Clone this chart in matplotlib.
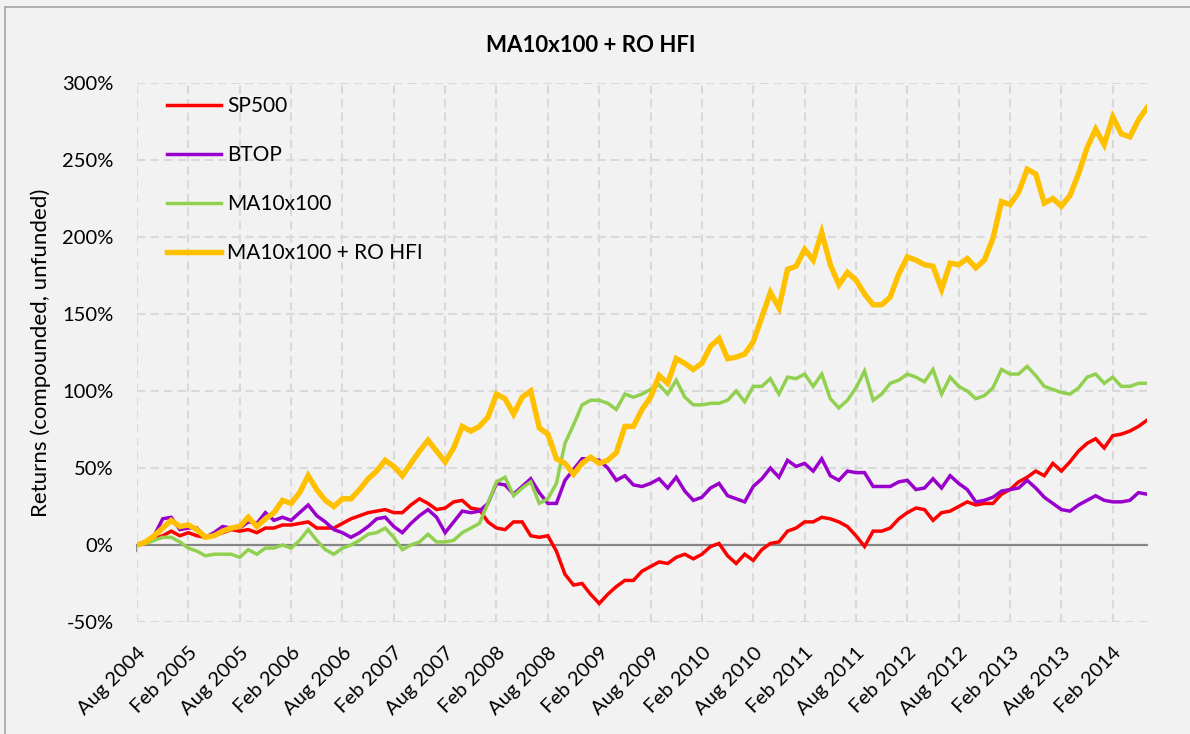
import matplotlib
matplotlib.use("Agg")
import matplotlib.pyplot as plt
from matplotlib.lines import Line2D
import numpy as np

plt.rcParams['font.family'] = ['Lato', 'DejaVu Sans']

# monthly returns in %, Aug 2004 .. Jun 2014
sp500 = [0, 1, 4, 6, 9, 6, 8, 6, 5, 6, 8, 10, 9, 10, 8, 11, 11, 13, 13, 14, 15, 11, 11, 11, 14, 17, 19, 21, 22, 23, 21,
         21, 26, 30, 27, 23, 24, 28, 29, 24, 23, 15, 11, 10, 15, 15, 6, 5, 6, -4, -19, -26, -25, -32, -38, -32, -27, -23, -23, -17, -14,
         -11, -12, -8, -6, -9, -6, -1, 1, -7, -12, -6, -10, -3, 1, 2, 9, 11, 15, 15, 18, 17, 15, 12, 6, -1, 9, 9, 11, 17,
         21, 24, 23, 16, 21, 22, 25, 28, 26, 27, 27, 33, 36, 41, 44, 48, 45, 53, 48, 54, 61, 66, 69, 63, 71, 72, 74, 77, 81]
btop = [0, 2, 6, 17, 18, 10, 11, 11, 5, 8, 12, 11, 11, 15, 14, 21, 16, 18, 16, 21, 26, 19, 15, 10, 8, 5, 8, 12, 17, 18, 12,
        8, 14, 19, 23, 18, 8, 15, 22, 21, 22, 27, 40, 39, 33, 38, 43, 34, 27, 27, 42, 49, 56, 56, 55, 50, 42, 45, 39, 38, 40,
        43, 37, 44, 35, 29, 31, 37, 40, 32, 30, 28, 38, 43, 50, 44, 55, 51, 53, 48, 56, 45, 42, 48, 47, 47, 38, 38, 38, 41,
        42, 36, 37, 43, 37, 45, 40, 36, 28, 29, 31, 35, 36, 37, 42, 37, 31, 27, 23, 22, 26, 29, 32, 29, 28, 28, 29, 34, 33]
ma10x100 = [0, 1, 3, 5, 5, 2, -2, -4, -7, -6, -6, -6, -8, -3, -6, -2, -2, 0, -2, 3, 10, 3, -3, -6, -2, 0, 3, 7, 8, 11, 5,
            -3, 0, 2, 7, 2, 2, 3, 8, 11, 14, 27, 41, 44, 32, 37, 41, 27, 30, 40, 66, 78, 91, 94, 94, 92, 88, 98, 96, 98, 101,
            104, 98, 107, 96, 91, 91, 92, 92, 94, 100, 93, 103, 103, 108, 98, 109, 108, 111, 103, 111, 95, 89, 94, 102, 113, 94, 98, 105, 107,
            111, 109, 106, 114, 98, 109, 103, 100, 95, 97, 102, 114, 111, 111, 116, 110, 103, 101, 99, 98, 102, 109, 111, 105, 109, 103, 103, 105, 105]
ma_ro_hfi = [0, 2, 6, 11, 16, 12, 13, 10, 5, 6, 9, 11, 12, 18, 12, 17, 21, 29, 27, 34, 45, 36, 29, 25, 30, 30, 36, 43, 48, 55, 51,
             45, 53, 61, 68, 61, 54, 63, 77, 74, 77, 83, 98, 95, 85, 96, 100, 76, 72, 56, 53, 46, 53, 57, 53, 55, 60, 77, 77, 88, 96,
             110, 105, 121, 118, 114, 118, 129, 134, 121, 122, 124, 132, 148, 164, 154, 179, 181, 192, 185, 203, 182, 169, 177, 172, 163, 156, 156, 161, 176,
             187, 185, 182, 181, 166, 183, 182, 186, 180, 185, 199, 223, 221, 229, 244, 241, 222, 225, 220, 227, 241, 258, 270, 260, 278, 267, 265, 276, 284]

tick_labels = ["Aug 2004", "Feb 2005", "Aug 2005", "Feb 2006", "Aug 2006", "Feb 2007", "Aug 2007",
               "Feb 2008", "Aug 2008", "Feb 2009", "Aug 2009", "Feb 2010", "Aug 2010", "Feb 2011",
               "Aug 2011", "Feb 2012", "Aug 2012", "Feb 2013", "Aug 2013", "Feb 2014"]

series = [("SP500", sp500, "#FF0000", 2.5),
          ("BTOP", btop, "#9900CC", 2.5),
          ("MA10x100", ma10x100, "#92D050", 2.5),
          ("MA10x100 + RO HFI", ma_ro_hfi, "#FFC000", 3.9)]

bg = "#F2F2F2"
fig = plt.figure(figsize=(11.9, 7.34), dpi=100, facecolor=bg)
ax = fig.add_axes([137 / 1190, 1 - 622 / 734, 1010 / 1190, 539 / 734])
ax.set_facecolor(bg)

months = np.arange(len(sp500))
for name, vals, col, lw in series:
    ax.plot(months, vals, color=col, lw=lw, label=name, solid_joinstyle='miter', zorder=3)

ax.set_xlim(0, len(sp500) - 1)
ax.set_ylim(-50, 300)
ax.set_yticks(np.arange(-50, 301, 50))
ax.set_yticklabels([f"{v}%" for v in range(-50, 301, 50)])
xt = np.arange(0, len(sp500), 6)[:len(tick_labels)]
ax.set_xticks(xt)
ax.set_xticklabels(tick_labels, rotation=45, ha='right', rotation_mode='anchor')

for s in ax.spines.values():
    s.set_visible(False)
ax.tick_params(axis='both', length=0, labelsize=14.5, colors='#000000')
ax.tick_params(axis='x', pad=16)
ax.tick_params(axis='y', pad=17)

grid_kw = dict(color='#D9D9D9', lw=1.5, dashes=(4, 2.5), zorder=1)
for v in range(-50, 301, 50):
    if v != 0:
        ax.axhline(v, **grid_kw)
for x in xt:
    ax.axvline(x, **grid_kw)

# horizontal category axis drawn at 0%
sec = ax.secondary_xaxis(50 / 350)
sec.set_xticks(xt)
sec.set_xticklabels([])
sec.tick_params(direction='out', length=5, width=1.3, color='#868686')
for k, s in sec.spines.items():
    s.set_color('#868686')
    s.set_linewidth(1.6)

ax.set_ylabel("Returns (compounded, unfunded)", fontsize=16, labelpad=8)
fig.text(0.496, 1 - 45 / 734, "MA10x100 + RO HFI", ha='center', va='center',
         fontsize=16, fontweight='bold')

ax.legend(loc='upper left', bbox_to_anchor=(0.0297, 0.975), frameon=False,
          fontsize=15, handlelength=2.6, handletextpad=0.3, labelspacing=1.39,
          borderpad=0, borderaxespad=0)

# outer chart border (left and top visible)
fig.add_artist(Line2D([5 / 1190, 5 / 1190], [0, 1 - 7 / 734], transform=fig.transFigure, color='#A6A6A6', lw=1.2))
fig.add_artist(Line2D([5 / 1190, 1], [1 - 7 / 734, 1 - 7 / 734], transform=fig.transFigure, color='#A6A6A6', lw=1.2))

fig.savefig("out.png", dpi=100, facecolor=bg)
